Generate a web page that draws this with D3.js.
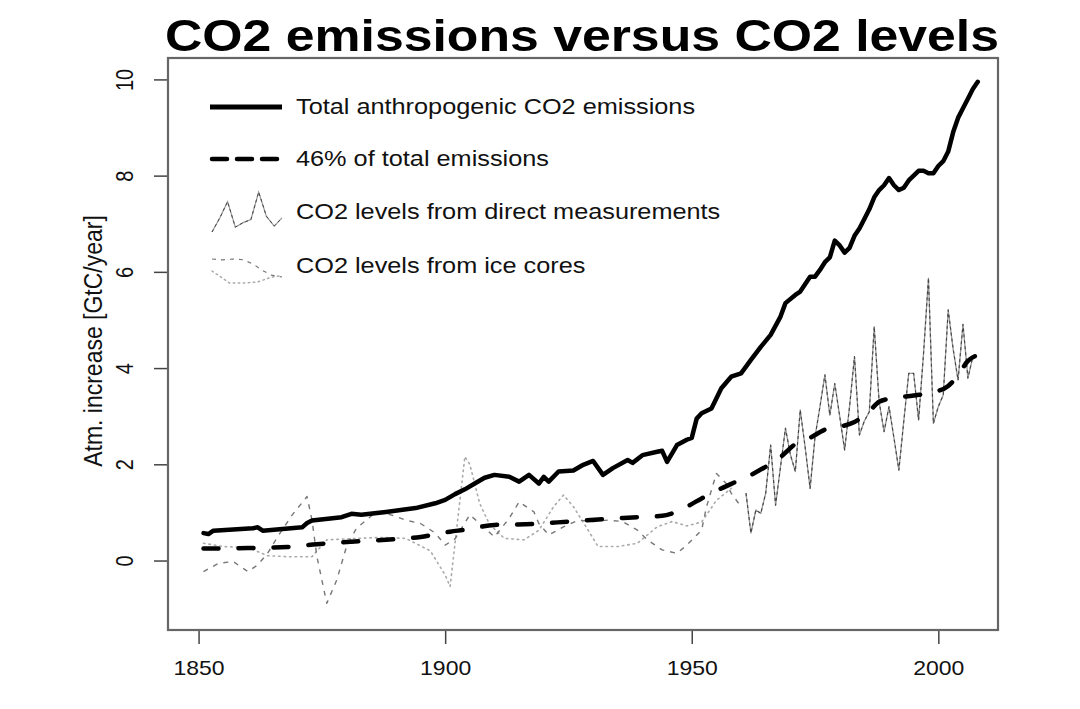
<!DOCTYPE html>
<html>
<head>
<meta charset="utf-8">
<script src="https://cdn.jsdelivr.net/npm/d3@7"></script>
<style>
  body { margin: 0; background: #fff; }
  svg { display: block; }
</style>
</head>
<body>
<svg id="chart" width="1080" height="709"></svg>
<script>
// total anthropogenic emissions, GtC/year
const emisYears = [1851,1852,1853,1861,1862,1863,1871,1872,1873,1879,1881,1883,1888,1894,1898,
  1900,1902,1904,1906,1908,1910,1913,1915,1917,1919,1920,1921,1923,1926,1928,1930,1932,1934,
  1937,1938,1940,1943,1944,1945,1947,1949,1950,1951,1952,1954,1956,1958,1960,1962,1964,1966,
  1968,1969,1971,1972,1974,1975,1976,1977,1978,1979,1980,1981,1982,1983,1984,1985,1986,1987,
  1988,1989,1990,1991,1992,1993,1994,1995,1996,1997,1998,1999,2000,2001,2002,2003,2004,2005,
  2006,2007,2008];
const emisValues = [0.57,0.55,0.62,0.67,0.69,0.62,0.69,0.78,0.83,0.90,0.97,0.95,1.01,1.09,1.19,
  1.26,1.38,1.48,1.60,1.72,1.78,1.74,1.64,1.78,1.60,1.74,1.64,1.85,1.87,1.99,2.07,1.78,1.92,
  2.09,2.03,2.19,2.26,2.28,2.05,2.40,2.51,2.55,2.95,3.06,3.16,3.58,3.82,3.89,4.17,4.44,4.69,
  5.07,5.35,5.52,5.59,5.90,5.90,6.04,6.2,6.3,6.65,6.55,6.4,6.5,6.75,6.9,7.1,7.3,7.55,
  7.7,7.8,7.95,7.8,7.7,7.75,7.9,8.0,8.1,8.1,8.05,8.05,8.2,8.3,8.5,8.9,9.2,9.4,
  9.6,9.8,9.95];

// 46% of total emissions (smoothed curve)
const shareYears = [1851,1860,1868,1874,1881,1888,1895,1901,1904,1910,1918,1925,1932,1939,1944,
  1946,1949,1952,1955,1959,1962,1965,1968,1971,1974,1977,1980,1983,1986,1988,1991,1995,1999,
  2002,2004,2006,2008];
const shareValues = [0.25,0.26,0.28,0.34,0.39,0.43,0.49,0.60,0.64,0.74,0.76,0.81,0.86,0.90,0.93,
  0.98,1.12,1.29,1.45,1.64,1.78,1.95,2.15,2.42,2.55,2.72,2.78,2.88,3.10,3.30,3.38,3.43,3.50,
  3.63,3.85,4.15,4.27];

// direct measurements, one value a year from 1961
const measYears = d3.range(1961, 2008);
const measValues = [1.40,0.57,1.05,0.98,1.40,2.40,1.15,1.95,2.75,2.2,1.85,3.13,2.35,1.50,2.57,
  3.2,3.86,3.02,3.68,3.0,2.30,3.2,4.24,2.61,2.9,3.09,4.86,3.30,2.68,3.20,2.55,1.88,2.9,3.89,
  3.89,2.92,4.3,5.87,2.85,3.2,3.44,5.21,4.4,3.75,4.91,3.79,4.24];

// ice cores, dashed record
const iceAYears = [1851,1854,1857,1860,1862,1864,1866,1869,1872,1873,1874,1876,1878,1880,1882,
  1884,1886,1889,1892,1895,1898,1900,1902,1905,1907,1910,1913,1915,1918,1919,1921,1924,1927,
  1930,1933,1936,1939,1941,1944,1947,1949,1952,1953,1955,1957,1958,1960];
const iceAValues = [-0.23,-0.06,-0.02,-0.23,-0.09,0.15,0.49,0.95,1.33,0.84,0.08,-0.89,-0.41,0.29,0.67,
  0.84,1.01,0.95,0.84,0.77,0.57,0.32,0.45,0.95,0.77,0.49,0.88,1.22,1.01,0.77,0.53,0.70,0.84,
  0.81,0.84,0.81,0.63,0.43,0.22,0.15,0.32,0.63,1.12,1.81,1.60,1.40,1.12];

// ice cores, dotted record
const iceBYears = [1851,1855,1860,1864,1868,1873,1876,1882,1887,1892,1897,1900,1901,1903,1904,
  1905,1907,1909,1912,1916,1919,1922,1924,1926,1929,1931,1935,1939,1943,1946,1949,1952,1955,1958];
const iceBValues = [0.36,0.29,0.27,0.10,0.08,0.08,0.43,0.46,0.48,0.46,0.20,-0.30,-0.54,1.26,2.16,
  2.00,1.19,0.75,0.46,0.43,0.63,1.12,1.36,1.12,0.63,0.29,0.29,0.36,0.70,0.81,0.72,0.80,1.25,1.50];

const xTicks = [1850, 1900, 1950, 2000];
const yTicks = [0, 2, 4, 6, 8, 10];
const legendLabels = [
  'Total anthropogenic CO2 emissions',
  '46% of total emissions',
  'CO2 levels from direct measurements',
  'CO2 levels from ice cores'
];

const font = '"Liberation Sans", Arial, Helvetica, sans-serif';
const stretch = 1.15;   // the picture is a bit wider than tall
const box = {left: 168, right: 998, top: 58, bottom: 630};

const pts = (xs, vs) => xs.map((yr, i) => ({year: yr, value: vs[i]}));

const x = d3.scaleLinear().domain([1843.8, 2012.1]).range([box.left, box.right]);
const y = d3.scaleLinear().domain([-1.444, 10.445]).range([box.bottom, box.top]);

const svg = d3.select('#chart');

// title
svg.append('text')
  .attr('transform', `translate(582 51) scale(${stretch} 1)`)
  .attr('text-anchor', 'middle')
  .attr('font-family', font)
  .attr('font-weight', 'bold')
  .attr('font-size', 45)
  .attr('fill', '#000')
  .text('CO2 emissions versus CO2 levels');

// y label
svg.append('text')
  .attr('transform', `translate(93 341) scale(${stretch} 1) rotate(-90)`)
  .attr('text-anchor', 'middle')
  .attr('dominant-baseline', 'central')
  .attr('font-family', font)
  .attr('font-size', 23)
  .attr('fill', '#111')
  .text('Atm. increase [GtC/year]');

// axes
const gx = svg.append('g')
  .attr('transform', `translate(0 ${box.bottom})`)
  .call(d3.axisBottom(x).tickValues(xTicks).tickSize(14).tickPadding(17).tickFormat(d3.format('d')));
gx.select('.domain').remove();
gx.selectAll('.tick line').attr('stroke', '#444').attr('stroke-width', 1.5);
gx.selectAll('.tick text')
  .attr('font-family', font).attr('font-size', 20).attr('fill', '#111')
  .attr('transform', `scale(${stretch} 1)`);

const gy = svg.append('g')
  .attr('transform', `translate(${box.left} 0)`)
  .call(d3.axisLeft(y).tickValues(yTicks).tickSize(14));
gy.select('.domain').remove();
gy.selectAll('.tick line').attr('stroke', '#444').attr('stroke-width', 1.5);
gy.selectAll('.tick text')
  .attr('x', null).attr('dy', null)
  .attr('text-anchor', 'middle')
  .attr('dominant-baseline', 'central')
  .attr('font-family', font).attr('font-size', 20).attr('fill', '#111')
  .attr('transform', `translate(-43 0) scale(${stretch} 1) rotate(-90)`);

// plot box
svg.append('rect')
  .attr('x', box.left).attr('y', box.top)
  .attr('width', box.right - box.left).attr('height', box.bottom - box.top)
  .attr('fill', 'none').attr('stroke', '#666').attr('stroke-width', 2.2);

const line = d3.line().x(d => x(d.year)).y(d => y(d.value));
const smooth = d3.line().x(d => x(d.year)).y(d => y(d.value)).curve(d3.curveMonotoneX);

const plot = svg.append('g').attr('fill', 'none').attr('stroke-linejoin', 'round');

plot.append('path').datum(pts(iceBYears, iceBValues))
  .attr('d', line).attr('stroke', '#aaa').attr('stroke-width', 1.6)
  .attr('stroke-dasharray', '1.5,4').attr('stroke-linecap', 'round');

plot.append('path').datum(pts(iceAYears, iceAValues))
  .attr('d', line).attr('stroke', '#777').attr('stroke-width', 1.4)
  .attr('stroke-dasharray', '5,6');

const meas = pts(measYears, measValues);
plot.append('path').datum(meas)
  .attr('d', line).attr('stroke', '#999').attr('stroke-width', 1.3);
plot.append('path').datum(meas)
  .attr('d', line).attr('stroke', '#444').attr('stroke-width', 1.1)
  .attr('stroke-dasharray', '3,3');

plot.append('path').datum(pts(shareYears, shareValues))
  .attr('d', smooth).attr('stroke', '#000').attr('stroke-width', 4.5)
  .attr('stroke-dasharray', '15,20').attr('stroke-linecap', 'round');

plot.append('path').datum(pts(emisYears, emisValues))
  .attr('d', line).attr('stroke', '#000').attr('stroke-width', 4.5)
  .attr('stroke-linecap', 'round');

// legend
const legRows = [107, 159, 212, 266];
const legX0 = 210, legX1 = 282, legText = 296;
const leg = svg.append('g');

leg.selectAll('text')
  .data(legendLabels)
  .join('text')
    .attr('transform', (d, i) => `translate(${legText} ${legRows[i]}) scale(${stretch} 1)`)
    .attr('dominant-baseline', 'central')
    .attr('font-family', font)
    .attr('font-size', 22)
    .attr('fill', '#111')
    .text(d => d);

leg.append('line')
  .attr('x1', legX0).attr('x2', legX1).attr('y1', legRows[0]).attr('y2', legRows[0])
  .attr('stroke', '#000').attr('stroke-width', 5);
leg.append('line')
  .attr('x1', legX0 + 2).attr('x2', legX1).attr('y1', legRows[1]).attr('y2', legRows[1])
  .attr('stroke', '#000').attr('stroke-width', 4.5)
  .attr('stroke-dasharray', '15,10').attr('stroke-linecap', 'round');

// small copies of the records as legend glyphs
function glyph(data, y0, y1, stroke, width, dash) {
  const gxs = d3.scaleLinear().domain(d3.extent(data, d => d.year)).range([legX0 + 2, legX1]);
  const gys = d3.scaleLinear().domain(d3.extent(data, d => d.value)).range([y1, y0]);
  const p = leg.append('path').datum(data)
    .attr('d', d3.line().x(d => gxs(d.year)).y(d => gys(d.value)))
    .attr('fill', 'none').attr('stroke', stroke).attr('stroke-width', width);
  if (dash) p.attr('stroke-dasharray', dash);
  return p;
}
const measGlyph = meas.filter(d => d.year >= 1981 && d.year <= 1990);
glyph(measGlyph, 192, 232, '#999', 1.2);
glyph(measGlyph, 192, 232, '#444', 1, '3,3');
glyph(pts(iceAYears, iceAValues).filter(d => d.year >= 1927 && d.year <= 1947), 259, 277, '#777', 1.2, '4,5');
glyph(pts(iceBYears, iceBValues).filter(d => d.year >= 1926 && d.year <= 1946), 271, 283, '#aaa', 1.5, '1.5,3.5')
  .attr('stroke-linecap', 'round');
</script>
</body>
</html>
